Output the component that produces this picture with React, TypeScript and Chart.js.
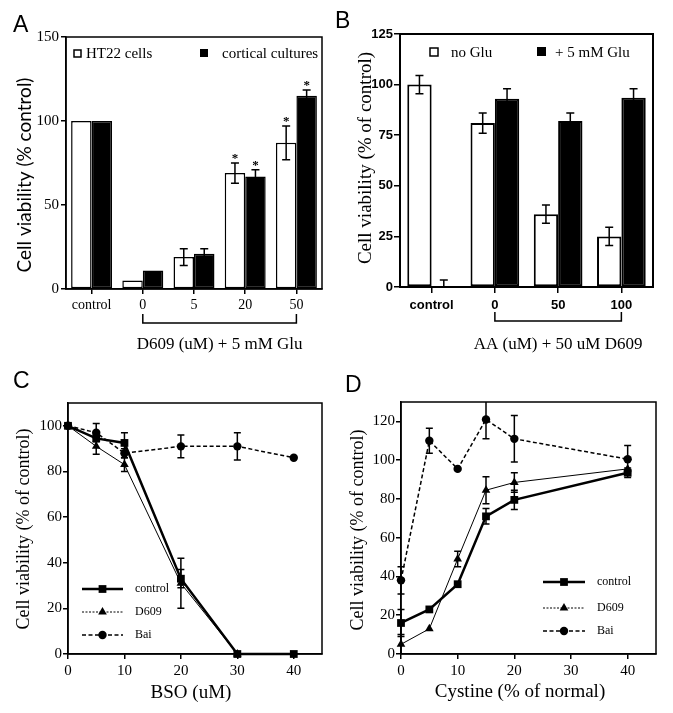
import React, { useEffect, useRef } from 'react';
import { Chart, registerables } from 'chart.js';

Chart.register(...registerables);

// ---------- Panel A ----------
const aCategories = ['control', '0', '5', '20', '50'];
const aHT22 = [100, 5, 19, 69, 87];
const aHT22Err = [0, 0, 5, 6, 10];
const aHT22Sig = [false, false, false, true, true];
const aCortical = [100, 11, 21, 67, 115];
const aCorticalErr = [0, 0, 3, 4, 3.5];
const aCorticalSig = [false, false, false, true, true];
const aYTicks = [0, 50, 100, 150];

// ---------- Panel B ----------
const bCategories = ['control', '0', '50', '100'];
const bNoGlu = [100, 81, 36, 25];
const bNoGluErr = [4.5, 5, 4.5, 4.5];
const bGlu = [0, 93, 82, 93.5];
const bGluErr = [3.5, 5, 4, 4.5];
const bYTicks = [0, 25, 50, 75, 100, 125];

// ---------- Panel C ----------
const cControlX = [0, 5, 10, 20, 30, 40];
const cControl = [100, 94.5, 92.5, 33, 0, 0];
const cControlErr = [0, 0, 4.5, 4, 0, 0];
const cD609X = [0, 5, 10, 20, 30];
const cD609 = [100, 91, 83, 31, 0];
const cD609Err = [0, 3.5, 3, 11, 0];
const cBaiX = [0, 5, 10, 20, 30, 40];
const cBai = [100, 97, 88, 91, 91, 86];
const cBaiErr = [0, 4, 2, 5, 6, 0];
const cXTicks = [0, 10, 20, 30, 40];
const cYTicks = [0, 20, 40, 60, 80, 100];

// ---------- Panel D ----------
const dX = [0, 5, 10, 15, 20, 40];
const dControl = [16, 23, 36, 71, 79.5, 93.5];
const dControlErr = [7, 0, 0, 4, 5, 2.5];
const dD609 = [5, 13, 49, 84.5, 88.5, 95.5];
const dD609Err = [5, 0, 4, 7, 5, 0];
const dBai = [38, 110, 95.5, 121, 111, 100.5];
const dBaiErr = [7, 6.5, 0, 10, 12, 7];
const dXTicks = [0, 10, 20, 30, 40];
const dYTicks = [0, 20, 40, 60, 80, 100, 120];

const SERIF = '"Liberation Serif", "Times New Roman", serif';
const SANS = '"Liberation Sans", Arial, sans-serif';
const GILL = 'Lato, "Open Sans", sans-serif';

const pts = (xs: number[], ys: number[]) => xs.map((x, i) => ({ x, y: ys[i] }));

const errorBarPlugin = {
  id: 'errorBars',
  afterDatasetsDraw(chart: any) {
    const ctx = chart.ctx;
    const area = chart.chartArea;
    const yScale = chart.scales.y;
    ctx.save();
    ctx.beginPath();
    ctx.rect(area.left - 10, area.top, area.right - area.left + 20, area.bottom - area.top);
    ctx.clip();
    chart.data.datasets.forEach((ds: any, i: number) => {
      const errs = ds.errors;
      if (!errs) return;
      const meta = chart.getDatasetMeta(i);
      const cap = ds.capWidth ?? 4;
      meta.data.forEach((el: any, j: number) => {
        const e = errs[j];
        if (!e) return;
        const raw = ds.data[j];
        const v = typeof raw === 'number' ? raw : raw.y;
        const x = el.x;
        const yt = yScale.getPixelForValue(v + e);
        const yb = yScale.getPixelForValue(v - e);
        ctx.strokeStyle = '#000';
        ctx.lineWidth = 1.5;
        ctx.setLineDash([]);
        ctx.beginPath();
        ctx.moveTo(x, yt);
        ctx.lineTo(x, yb);
        ctx.moveTo(x - cap, yt);
        ctx.lineTo(x + cap, yt);
        ctx.moveTo(x - cap, yb);
        ctx.lineTo(x + cap, yb);
        ctx.stroke();
      });
    });
    ctx.restore();
  },
};

function drawBox(ctx: CanvasRenderingContext2D, area: any, lw: number) {
  ctx.save();
  ctx.strokeStyle = '#000';
  ctx.lineWidth = lw;
  ctx.setLineDash([]);
  ctx.strokeRect(area.left, area.top, area.right - area.left, area.bottom - area.top);
  ctx.restore();
}

function drawText(ctx: CanvasRenderingContext2D, text: string, x: number, y: number, font: string, align: CanvasTextAlign = 'left', baseline: CanvasTextBaseline = 'alphabetic') {
  ctx.save();
  ctx.fillStyle = '#000';
  ctx.font = font;
  ctx.textAlign = align;
  ctx.textBaseline = baseline;
  ctx.fillText(text, x, y);
  ctx.restore();
}

function drawVText(ctx: CanvasRenderingContext2D, text: string, cx: number, cy: number, font: string) {
  ctx.save();
  ctx.translate(cx, cy);
  ctx.rotate(-Math.PI / 2);
  ctx.fillStyle = '#000';
  ctx.font = font;
  ctx.textAlign = 'center';
  ctx.textBaseline = 'middle';
  ctx.fillText(text, 0, 0);
  ctx.restore();
}

function drawBracket(ctx: CanvasRenderingContext2D, x1: number, x2: number, y1: number, y2: number) {
  ctx.save();
  ctx.strokeStyle = '#000';
  ctx.lineWidth = 1.5;
  ctx.beginPath();
  ctx.moveTo(x1, y1);
  ctx.lineTo(x1, y2);
  ctx.lineTo(x2, y2);
  ctx.lineTo(x2, y1);
  ctx.stroke();
  ctx.restore();
}

function drawMarker(ctx: CanvasRenderingContext2D, style: string, x: number, y: number, r: number) {
  ctx.beginPath();
  if (style === 'rect') {
    const s = r * Math.SQRT1_2;
    ctx.rect(x - s, y - s, 2 * s, 2 * s);
  } else if (style === 'triangle') {
    ctx.moveTo(x, y - r);
    ctx.lineTo(x + r * 0.866, y + r * 0.5);
    ctx.lineTo(x - r * 0.866, y + r * 0.5);
    ctx.closePath();
  } else {
    ctx.arc(x, y, r, 0, Math.PI * 2);
  }
  ctx.fill();
}

function drawLineLegend(chart: any, x1: number, x2: number, ys: number[], tx: number) {
  const ctx = chart.ctx as CanvasRenderingContext2D;
  chart.data.datasets.forEach((ds: any, i: number) => {
    const y = ys[i];
    ctx.save();
    ctx.strokeStyle = '#000';
    ctx.fillStyle = '#000';
    ctx.lineWidth = ds.borderWidth;
    ctx.setLineDash(ds.legendDash || ds.borderDash || []);
    ctx.beginPath();
    ctx.moveTo(x1, y);
    ctx.lineTo(x2, y);
    ctx.stroke();
    ctx.setLineDash([]);
    drawMarker(ctx, ds.pointStyle, (x1 + x2) / 2, y, ds.pointRadius);
    ctx.restore();
    drawText(ctx, ds.label, tx, y, `12px ${SERIF}`, 'left', 'middle');
  });
}

const tickGrid = (len: number, offset = false) => ({
  display: true,
  drawOnChartArea: false,
  drawTicks: true,
  tickLength: len,
  color: '#000',
  lineWidth: 1.5,
  offset,
});
const border = { display: true, color: '#000', width: 1.5 };
const fixedTicks = (arr: number[]) => (s: any) => {
  s.ticks = arr.map((v) => ({ value: v }));
};

function configA(): any {
  return {
    type: 'bar',
    data: {
      labels: aCategories,
      datasets: [
        { label: 'HT22 cells', data: aHT22, errors: aHT22Err, sig: aHT22Sig, backgroundColor: '#fff', borderColor: '#000', borderWidth: 1.5, borderSkipped: false, categoryPercentage: 0.8, barPercentage: 1.0 },
        { label: 'cortical cultures', data: aCortical, errors: aCorticalErr, sig: aCorticalSig, backgroundColor: '#000', borderColor: '#000', borderWidth: 1.5, borderSkipped: false, categoryPercentage: 0.8, barPercentage: 1.0 },
      ],
    },
    options: {
      responsive: false,
      animation: false,
      layout: { padding: { top: 37, right: 8, left: 0, bottom: 0 } },
      plugins: { legend: { display: false }, tooltip: { enabled: false } },
      scales: {
        x: {
          grid: tickGrid(5, false),
          border,
          ticks: { color: '#000', font: { family: SERIF, size: 14 }, padding: 3, maxRotation: 0, autoSkip: false },
          afterFit: (s: any) => { s.height = 66; },
        },
        y: {
          min: 0, max: 150,
          afterBuildTicks: fixedTicks(aYTicks),
          grid: tickGrid(5),
          border,
          ticks: { color: '#000', font: { family: SERIF, size: 15 }, padding: 2 },
          afterFit: (s: any) => { s.width = 66; },
        },
      },
    },
    plugins: [
      errorBarPlugin,
      {
        id: 'decorA',
        afterDraw(chart: any) {
          const ctx = chart.ctx;
          const a = chart.chartArea;
          const xs = chart.scales.x;
          const ys = chart.scales.y;
          drawBox(ctx, a, 1.5);
          drawText(ctx, 'A', 13, 32, `23px ${SANS}`);
          drawVText(ctx, 'Cell viability (% control)', 25, 175, `19px ${GILL}`);
          // legend
          ctx.save();
          ctx.fillStyle = '#fff';
          ctx.strokeStyle = '#000';
          ctx.lineWidth = 1.5;
          ctx.fillRect(74, 50, 7, 7);
          ctx.strokeRect(74, 50, 7, 7);
          ctx.fillStyle = '#000';
          ctx.fillRect(200, 49, 8, 8);
          ctx.restore();
          drawText(ctx, chart.data.datasets[0].label, 86, 58, `15px ${SERIF}`);
          drawText(ctx, chart.data.datasets[1].label, 222, 58, `15px ${SERIF}`);
          // asterisks
          chart.data.datasets.forEach((ds: any, i: number) => {
            const meta = chart.getDatasetMeta(i);
            meta.data.forEach((el: any, j: number) => {
              if (!ds.sig[j]) return;
              const top = ys.getPixelForValue(ds.data[j] + (ds.errors[j] || 0));
              drawText(ctx, '*', el.x, top - 1, `bold 13px ${SERIF}`, 'center');
            });
          });
          // bracket + title
          const x1 = xs.getPixelForValue(1);
          const x2 = xs.getPixelForValue(4);
          drawBracket(ctx, x1, x2, a.bottom + 25, a.bottom + 34);
          drawText(ctx, 'D609 (uM) + 5 mM Glu', (x1 + x2) / 2, a.bottom + 60, `17px ${SERIF}`, 'center');
        },
      },
    ],
  };
}

function configB(): any {
  return {
    type: 'bar',
    data: {
      labels: bCategories,
      datasets: [
        { label: 'no Glu', data: bNoGlu, errors: bNoGluErr, backgroundColor: '#fff', borderColor: '#000', borderWidth: 2, borderSkipped: false, categoryPercentage: 0.77, barPercentage: 1.0 },
        { label: '+ 5 mM Glu', data: bGlu, errors: bGluErr, backgroundColor: '#000', borderColor: '#000', borderWidth: 2, borderSkipped: false, categoryPercentage: 0.77, barPercentage: 1.0 },
      ],
    },
    options: {
      responsive: false,
      animation: false,
      layout: { padding: { top: 34, right: 20, left: 0, bottom: 0 } },
      plugins: { legend: { display: false }, tooltip: { enabled: false } },
      scales: {
        x: {
          grid: tickGrid(6, false),
          border: { ...border, width: 2 },
          ticks: { color: '#000', font: { family: SANS, size: 13, weight: 'bold' }, padding: 5, maxRotation: 0, autoSkip: false },
          afterFit: (s: any) => { s.height = 68; },
        },
        y: {
          min: 0, max: 125,
          afterBuildTicks: fixedTicks(bYTicks),
          grid: tickGrid(6),
          border: { ...border, width: 2 },
          ticks: { color: '#000', font: { family: SANS, size: 13, weight: 'bold' }, padding: 1 },
          afterFit: (s: any) => { s.width = 70; },
        },
      },
    },
    plugins: [
      errorBarPlugin,
      {
        id: 'decorB',
        afterDraw(chart: any) {
          const ctx = chart.ctx;
          const a = chart.chartArea;
          const xs = chart.scales.x;
          drawBox(ctx, a, 2);
          drawText(ctx, 'B', 5, 28, `23px ${SANS}`);
          drawVText(ctx, 'Cell viability (% of control)', 36, 158, `19px ${SERIF}`);
          ctx.save();
          ctx.fillStyle = '#fff';
          ctx.strokeStyle = '#000';
          ctx.lineWidth = 1.5;
          ctx.fillRect(100, 48, 8, 8);
          ctx.strokeRect(100, 48, 8, 8);
          ctx.fillStyle = '#000';
          ctx.fillRect(207, 47, 9, 9);
          ctx.restore();
          drawText(ctx, chart.data.datasets[0].label, 121, 57, `15px ${SERIF}`);
          drawText(ctx, chart.data.datasets[1].label, 225, 57, `15px ${SERIF}`);
          const x1 = xs.getPixelForValue(1);
          const x2 = xs.getPixelForValue(3);
          drawBracket(ctx, x1, x2, a.bottom + 25, a.bottom + 34);
          drawText(ctx, 'AA (uM) + 50 uM D609', (x1 + x2) / 2, a.bottom + 62, `17px ${SERIF}`, 'center');
        },
      },
    ],
  };
}

function lineDatasets(sets: any[]) {
  return sets.map((s) => ({
    type: 'line',
    label: s.label,
    data: s.data,
    errors: s.errors,
    borderColor: '#000',
    backgroundColor: '#000',
    borderWidth: s.width,
    borderDash: s.dash,
    legendDash: s.legendDash,
    pointStyle: s.style,
    pointRadius: s.r,
    pointBackgroundColor: '#000',
    pointBorderColor: '#000',
    pointBorderWidth: 0,
    tension: 0,
    fill: false,
    clip: false,
    capWidth: 3.5,
  }));
}

function lineScales(xMax: number, yMax: number, xTicks: number[], yTicks: number[], yWidth: number) {
  return {
    x: {
      type: 'linear',
      min: 0, max: xMax,
      afterBuildTicks: fixedTicks(xTicks),
      grid: tickGrid(5),
      border,
      ticks: { color: '#000', font: { family: SERIF, size: 15 }, padding: 3, maxRotation: 0 },
      afterFit: (s: any) => { s.height = 59; },
    },
    y: {
      min: 0, max: yMax,
      afterBuildTicks: fixedTicks(yTicks),
      grid: tickGrid(5),
      border,
      ticks: { color: '#000', font: { family: SERIF, size: 15 }, padding: 1 },
      afterFit: (s: any) => { s.width = yWidth; },
    },
  };
}

function configC(): any {
  return {
    type: 'line',
    data: {
      datasets: lineDatasets([
        { label: 'control', data: pts(cControlX, cControl), errors: cControlErr, width: 2.5, dash: [], style: 'rect', r: 5.5 },
        { label: 'D609', data: pts(cD609X, cD609), errors: cD609Err, width: 1, dash: [], legendDash: [2, 1.5], style: 'triangle', r: 5 },
        { label: 'Bai', data: pts(cBaiX, cBai), errors: cBaiErr, width: 1.5, dash: [4, 2.5], style: 'circle', r: 4.2 },
      ]),
    },
    options: {
      responsive: false,
      animation: false,
      layout: { padding: { top: 48, right: 8, left: 0, bottom: 0 } },
      plugins: { legend: { display: false }, tooltip: { enabled: false } },
      scales: lineScales(45, 110, cXTicks, cYTicks, 68),
    },
    plugins: [
      errorBarPlugin,
      {
        id: 'decorC',
        afterDraw(chart: any) {
          const ctx = chart.ctx;
          const a = chart.chartArea;
          drawBox(ctx, a, 1.5);
          drawText(ctx, 'C', 13, 33, `23px ${SANS}`);
          drawVText(ctx, 'Cell viability (% of control)', 24, 174, `18px ${SERIF}`);
          drawText(ctx, 'BSO (uM)', (a.left + a.right) / 2 - 4, 343, `19px ${SERIF}`, 'center');
          drawLineLegend(chart, 82, 123, [234, 257, 280], 135);
        },
      },
    ],
  };
}

function configD(): any {
  return {
    type: 'line',
    data: {
      datasets: lineDatasets([
        { label: 'control', data: pts(dX, dControl), errors: dControlErr, width: 2.5, dash: [], style: 'rect', r: 5.5 },
        { label: 'D609', data: pts(dX, dD609), errors: dD609Err, width: 1, dash: [], legendDash: [2, 1.5], style: 'triangle', r: 5 },
        { label: 'Bai', data: pts(dX, dBai), errors: dBaiErr, width: 1.5, dash: [4, 2.5], style: 'circle', r: 4.2 },
      ]),
    },
    options: {
      responsive: false,
      animation: false,
      layout: { padding: { top: 47, right: 17, left: 0, bottom: 0 } },
      plugins: { legend: { display: false }, tooltip: { enabled: false } },
      scales: lineScales(45, 130, dXTicks, dYTicks, 71),
    },
    plugins: [
      errorBarPlugin,
      {
        id: 'decorD',
        afterDraw(chart: any) {
          const ctx = chart.ctx;
          const a = chart.chartArea;
          drawBox(ctx, a, 1.5);
          drawText(ctx, 'D', 15, 37, `23px ${SANS}`);
          drawVText(ctx, 'Cell viability (% of control)', 28, 175, `18px ${SERIF}`);
          drawText(ctx, 'Cystine (% of normal)', 190, 342, `19px ${SERIF}`, 'center');
          drawLineLegend(chart, 213, 255, [227, 253, 276], 267);
        },
      },
    ],
  };
}

function Panel({ left, top, width, height, make }: { left: number; top: number; width: number; height: number; make: () => any }) {
  const ref = useRef<HTMLCanvasElement | null>(null);
  useEffect(() => {
    if (!ref.current) return;
    const chart = new Chart(ref.current, make());
    return () => chart.destroy();
  }, [make]);
  return (
    <canvas
      ref={ref}
      width={width}
      height={height}
      style={{ position: 'absolute', left, top, width, height }}
    />
  );
}

export default function App() {
  return (
    <div style={{ position: 'absolute', left: 0, top: 0, width: 673, height: 713, background: '#fff' }}>
      <Panel left={0} top={0} width={330} height={355} make={configA} />
      <Panel left={330} top={0} width={343} height={355} make={configB} />
      <Panel left={0} top={355} width={330} height={358} make={configC} />
      <Panel left={330} top={355} width={343} height={358} make={configD} />
    </div>
  );
}
